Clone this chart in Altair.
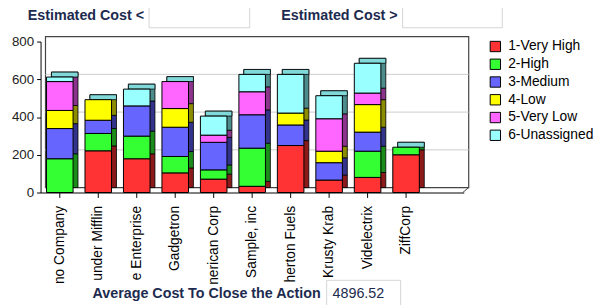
import altair as alt
import pandas as pd

companies = ["no Company", "under Mifflin", "e Enterprise", "Gadgetron", "nerican Corp",
             "Sample, inc", "herton Fuels", "Krusty Krab", "Videlectrix", "ZiffCorp"]
series_names = ["1-Very High", "2-High", "3-Medium", "4-Low", "5-Very Low", "6-Unassigned"]
very_high = [0, 221, 179, 104, 71, 33, 249, 66, 80, 200]
high = [179, 92, 120, 87, 49, 202, 0, 0, 139, 40]
medium = [160, 70, 160, 155, 146, 177, 109, 92, 101, 0]
low = [96, 109, 0, 99, 0, 0, 63, 61, 146, 0]
very_low = [153, 0, 0, 143, 38, 122, 0, 172, 61, 0]
unassigned = [24, 0, 89, 0, 101, 92, 205, 122, 158, 0]
front_colors = ["#ff3333", "#33ff33", "#6666ff", "#ffff00", "#ff66ff", "#99ffff"]
side_colors = ["#8c1a1a", "#1a8c1a", "#33338c", "#8c8c00", "#8c338c", "#4d8c8c"]
y_ticks = [0, 200, 400, 600, 800]
grid_values = [200, 400, 600]
avg_cost = "4896.52"

W, H = 429, 153
DX, DY = 5, 5
TXT = "#1d2b4f"
FONT = "Liberation Sans"

series_values = [very_high, high, medium, low, very_low, unassigned]
rows = []
totals = []
for ci, c in enumerate(companies):
    acc = 0
    for si, s in enumerate(series_names):
        v = series_values[si][ci]
        if v > 0:
            rows.append({"company": c, "series": s, "order": si, "y0": acc, "y1": acc + v,
                         "dark": side_colors[si]})
        acc += v
    totals.append({"company": c, "total": acc})
df = pd.DataFrame(rows)
tdf = pd.DataFrame(totals)
gdf = pd.DataFrame({"v": grid_values})

domain_x = companies + [" "]
xscale = alt.Scale(domain=domain_x, paddingInner=0.31, paddingOuter=0.155)
yscale = alt.Scale(domain=[0, 800], nice=False)

xaxis = alt.Axis(labelAngle=270, labelFontSize=14, labelFont=FONT, labelColor="black",
                 tickSize=5, labelPadding=8, domainColor="black",
                 tickColor={"condition": {"test": "datum.value === ' '", "value": "transparent"},
                            "value": "black"},
                 labelOverlap=False, labelLimit=200, title=None)
yaxis = alt.Axis(values=y_ticks, labelFontSize=13.5, labelFont=FONT, labelColor="#222222",
                 tickSize=4, labelPadding=3, domainColor="black", tickColor="black", grid=False,
                 title=None)

one = pd.DataFrame({"a": [0]})

wall = alt.Chart(one).mark_rect(fill="white", stroke="#444444", strokeWidth=1.2).encode(
    x=alt.value(DX), x2=alt.value(W + DX), y=alt.value(-DY), y2=alt.value(H - DY))

grid = alt.Chart(gdf).mark_rule(color="#cccccc", strokeWidth=1, yOffset=-DY).encode(
    y=alt.Y("v:Q", scale=yscale, axis=yaxis), x=alt.value(DX), x2=alt.value(W + DX))

floor = alt.Chart(one).mark_rule(color="#444444", strokeWidth=1).encode(
    x=alt.value(W - 1), x2=alt.value(W + DX), y=alt.value(H), y2=alt.value(H - DY))

side = alt.Chart(df).mark_bar(xOffset=DX, yOffset=-DY, y2Offset=-DY, stroke="black", strokeWidth=0.8).encode(
    x=alt.X("company:N", scale=xscale, axis=xaxis),
    y=alt.Y("y1:Q", scale=yscale, axis=yaxis),
    y2="y0:Q",
    fill=alt.Fill("dark:N", scale=None))

top = alt.Chart(tdf).mark_bar(xOffset=DX, yOffset=-DY, y2Offset=0, fill="#80d8d8", stroke="black", strokeWidth=0.8).encode(
    x=alt.X("company:N", scale=xscale, axis=xaxis),
    y=alt.Y("total:Q", scale=yscale, axis=yaxis),
    y2="total:Q")

front = alt.Chart(df).mark_bar(stroke="black", strokeWidth=1, opacity=1).encode(
    x=alt.X("company:N", scale=xscale, axis=xaxis),
    y=alt.Y("y1:Q", scale=yscale, axis=yaxis),
    y2="y0:Q",
    color=alt.Color("series:N", scale=alt.Scale(domain=series_names, range=front_colors),
                    legend=alt.Legend(orient="none", legendX=454, legendY=-2, title=None,
                                      symbolType="square", symbolSize=110, symbolStrokeColor="black",
                                      symbolStrokeWidth=1, symbolOpacity=1, labelFontSize=14,
                                      labelFont=FONT, labelColor="black", rowPadding=2,
                                      labelOffset=6)),
    order=alt.Order("order:Q"))


def label(text, x, y, align="right", bold=True):
    return alt.Chart(one).mark_text(text=text, align=align, baseline="middle", fontSize=14.5,
                                    fontWeight="bold" if bold else "normal", font=FONT, color=TXT).encode(
        x=alt.value(x), y=alt.value(y))


def box(x0, x1, y0, y1):
    return alt.Chart(one).mark_rect(fill="white", stroke="#d4d4d4", strokeWidth=1).encode(
        x=alt.value(x0), x2=alt.value(x1), y=alt.value(y0), y2=alt.value(y1))


decor = [
    box(110, 212, -38, -14), box(367, 468, -38, -14), box(290, 365, 242, 275),
    label("Estimated Cost <", 105, -26),
    label("Estimated Cost >", 362, -26),
    label("Average Cost To Close the Action", 284, 256),
    label(avg_cost, 296, 256, align="left", bold=False),
]

chart = alt.layer(wall, grid, floor, side, top, front, *decor).properties(
    width=W, height=H,
    autosize=alt.AutoSizeParams(type="none"),
    padding={"left": 33, "top": 32, "right": 132, "bottom": 112},
).configure_view(strokeWidth=0)

chart.save("out.html", embed_options={"renderer": "svg", "actions": False})
